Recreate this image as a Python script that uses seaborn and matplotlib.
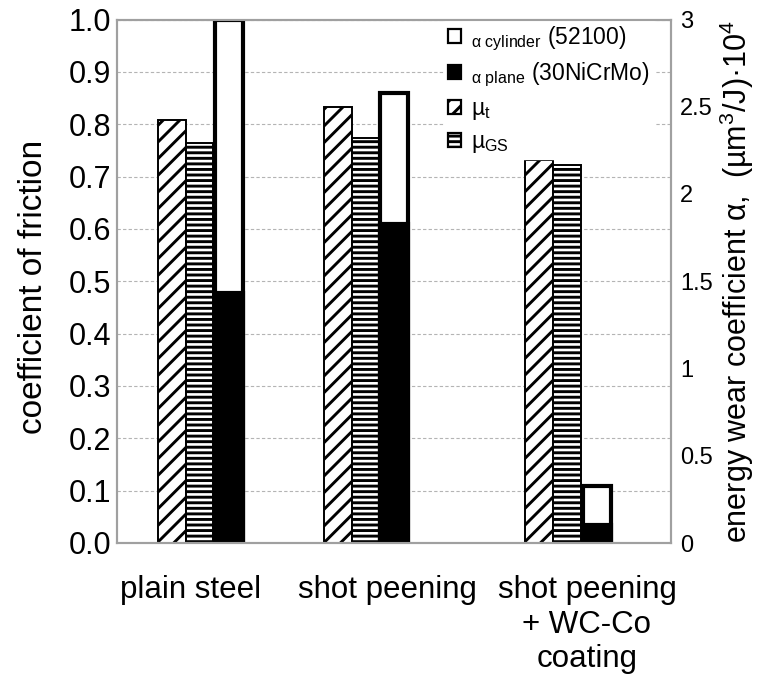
import numpy as np
import pandas as pd
import matplotlib
matplotlib.use("Agg")
import matplotlib.pyplot as plt
from matplotlib.patches import Patch
import seaborn as sns

# ---- data ----
categories = ["plain steel", "shot peening", "shot peening\n+ WC-Co\ncoating"]
mu_t = [0.808, 0.833, 0.732]            # coefficient of friction (hatched)
mu_gs = [0.765, 0.774, 0.723]           # coefficient of friction (horizontal lines)
alpha_plane = [1.43, 1.83, 0.105]       # energy wear coefficient, plane (black)
alpha_cylinder = [1.57, 0.75, 0.22]     # energy wear coefficient, cylinder (white, stacked)

# ---- layout (x positions in axis units, axis spans 0..3) ----
pos_t = np.array([0.298, 1.198, 2.285])
pos_gs = np.array([0.447, 1.346, 2.436])
pos_a = np.array([0.607, 1.501, 2.598])
label_pos = [0.401, 1.467, 2.545]
bar_w = 0.149

sns.set_theme(style="white")
plt.rcParams["font.family"] = ["Liberation Sans", "DejaVu Sans"]
plt.rcParams["mathtext.fontset"] = "custom"
plt.rcParams["mathtext.rm"] = "Liberation Sans"
plt.rcParams["mathtext.it"] = "Liberation Sans:italic"
plt.rcParams["hatch.linewidth"] = 2.1
plt.rcParams["hatch.color"] = "black"
for k in ("text.color", "axes.labelcolor", "xtick.color", "ytick.color"):
    plt.rcParams[k] = "black"

fig = plt.figure(figsize=(7.58, 6.88), dpi=100)
ax = fig.add_axes([117 / 758, 1 - 543 / 688, 554 / 758, 523.5 / 688])
ax2 = ax.twinx()

df_t = pd.DataFrame({"pos": pos_t, "val": mu_t})
df_gs = pd.DataFrame({"pos": pos_gs, "val": mu_gs})
alpha_total = np.array(alpha_plane) + np.array(alpha_cylinder)
df_tot = pd.DataFrame({"pos": pos_a, "val": alpha_total})
df_pl = pd.DataFrame({"pos": pos_a, "val": alpha_plane})

sns.barplot(data=df_t, x="pos", y="val", native_scale=True, orient="x", ax=ax,
            width=bar_w / np.diff(pos_t).min(), color="white", saturation=1,
            edgecolor="black", linewidth=1.4, hatch="//", errorbar=None)
sns.barplot(data=df_gs, x="pos", y="val", native_scale=True, orient="x", ax=ax,
            width=bar_w / np.diff(pos_gs).min(), color="white", saturation=1,
            edgecolor="black", linewidth=1.4, hatch="---", errorbar=None)
sns.barplot(data=df_tot, x="pos", y="val", native_scale=True, orient="x", ax=ax2,
            width=bar_w / np.diff(pos_a).min(), color="white", saturation=1,
            edgecolor="black", linewidth=3.0, errorbar=None)
sns.barplot(data=df_pl, x="pos", y="val", native_scale=True, orient="x", ax=ax2,
            width=bar_w / np.diff(pos_a).min(), color="black", saturation=1,
            edgecolor="black", linewidth=3.0, errorbar=None)

ax.set_xlim(0, 3)
ax2.set_xlim(0, 3)
ax.set_ylim(0, 1.0)
ax2.set_ylim(0, 3)

ax.set_yticks(np.arange(0, 1.01, 0.1))
ax.set_yticklabels([f"{v:.1f}" for v in np.arange(0, 1.01, 0.1)], fontsize=22)
ax2.set_yticks([0, 0.5, 1, 1.5, 2, 2.5, 3])
ax2.set_yticklabels(["0", "0.5", "1", "1.5", "2", "2.5", "3"], fontsize=17)
ax.set_xticks(label_pos)
ax.set_xticklabels(categories, fontsize=22.5, linespacing=1.2)

ax.tick_params(axis="x", length=0, pad=23)
ax.tick_params(axis="y", length=0, pad=4.3)
ax2.tick_params(axis="y", length=0, pad=6.5)

ax.set_axisbelow(True)
ax.yaxis.grid(True, linestyle=(0, (3, 2)), color="#b4b4b4", linewidth=0.8)
ax.xaxis.grid(False)
ax2.grid(False)

for a in (ax, ax2):
    for s in a.spines.values():
        s.set_color("#a0a0a0")
        s.set_linewidth(1.5)

ax.set_xlabel("")
ax.set_ylabel("coefficient of friction", fontsize=24)
ax.yaxis.set_label_coords(-0.1236, 0.49)
ax2.set_ylabel(r"energy wear coefficient α,  (µm$^\mathregular{3}$/J)·10$^\mathregular{4}$", fontsize=22)
ax2.yaxis.set_label_coords(1.084, 0.5)

handles = [
    Patch(facecolor="white", edgecolor="black", linewidth=1.6),
    Patch(facecolor="black", edgecolor="black", linewidth=1.6),
    Patch(facecolor="white", edgecolor="black", linewidth=1.6, hatch="//"),
    Patch(facecolor="white", edgecolor="black", linewidth=1.6, hatch="---"),
]
labels = [
    r"$_\mathregular{α\ cylinder}$ (52100)",
    r"$_\mathregular{α\ plane}$ (30NiCrMo)",
    r"µ$_\mathregular{t}$",
    r"µ$_\mathregular{GS}$",
]
leg = ax2.legend(handles, labels, loc="upper left",
                 bbox_to_anchor=(445 / 758, 1 - 21 / 688), bbox_transform=fig.transFigure,
                 fontsize=16.5, handlelength=0.55, handleheight=0.55, handletextpad=0.45,
                 labelspacing=0.35, borderpad=0.15, borderaxespad=0, frameon=True,
                 fancybox=False, framealpha=1, facecolor="white", edgecolor="white")
leg.set_zorder(2)

fig.savefig("out.png", dpi=100)
